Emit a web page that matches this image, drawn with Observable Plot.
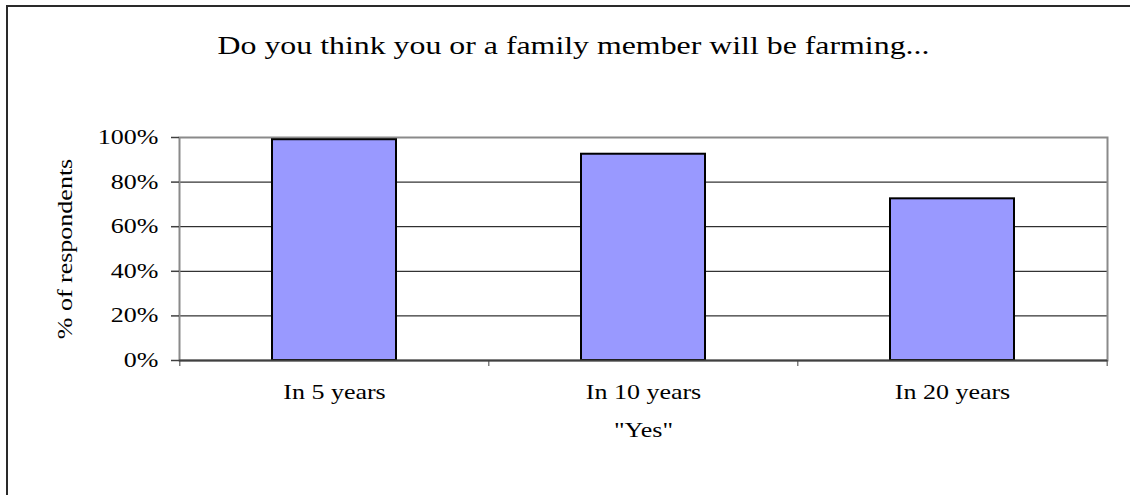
<!DOCTYPE html>
<html><head><meta charset="utf-8">
<script src="https://cdn.jsdelivr.net/npm/d3@7"></script>
<script src="https://cdn.jsdelivr.net/npm/@observablehq/plot@0.6"></script>
<style>
body{margin:0;background:#fff;}
#wrap{position:relative;width:1130px;height:495px;overflow:hidden;background:#fff;}
#wrap svg{position:absolute;left:0;top:0;}
#border{position:absolute;left:6px;top:5px;width:1200px;height:600px;border-left:2px solid #2a2a2a;border-top:2px solid #2a2a2a;}
</style></head><body><div id="wrap"><div id="border"></div></div>
<script>
const categories = ["In 5 years", "In 10 years", "In 20 years"];
const values = [0.99, 0.925, 0.725];
const yTicks = [0, 0.2, 0.4, 0.6, 0.8, 1];
const gridTicks = [0.2, 0.4, 0.6, 0.8];
const title = "Do you think you or a family member will be farming...";
const yLabel = "% of respondents";
const xLabel = '"Yes"';

const data = categories.map((c, i) => ({category: c, value: values[i]}));
const W = 1130, H = 495, mL = 179, mR = 23, mT = 137, mB = 135;
const step = (W - mL - mR) / categories.length;
const font = "'Liberation Serif', 'Times New Roman', serif";

const plot = Plot.plot({
  width: W, height: H, marginLeft: mL, marginRight: mR, marginTop: mT, marginBottom: mB,
  style: {fontFamily: font, fontSize: "20px", background: "transparent", color: "#000"},
  x: {type: "band", domain: categories, paddingInner: 0.6, paddingOuter: 0.3},
  y: {domain: [0, 1]},
  marks: [
    Plot.ruleY(gridTicks, {stroke: "#000", strokeWidth: 1}),
    Plot.frame({stroke: "#8a8a8a", strokeWidth: 2}),
    Plot.barY(data, {x: "category", y: "value", fill: "#9999ff", stroke: "#000", strokeWidth: 2}),
    Plot.ruleY([0], {stroke: "#404040", strokeWidth: 2}),
    Plot.axisY(yTicks, {tickSize: 8, tickPadding: 13, tickFormat: d3.format(".0%"), stroke: "#404040", strokeWidth: 1.5, line: true, label: null, fontSize: 20}),
    Plot.axisX({tickSize: 6, tickFormat: () => "", dx: -step / 2, label: null, stroke: "#404040"}),
    Plot.axisX([categories[categories.length - 1]], {tickSize: 6, tickFormat: () => "", dx: step / 2, label: null, stroke: "#404040"}),
    Plot.axisX({tickSize: 0, tickPadding: 24, label: null, fontSize: 20}),
    Plot.text([xLabel], {text: d => d, frameAnchor: "bottom", textAnchor: "middle", lineAnchor: "middle", dy: 70, fontSize: 20}),
    Plot.text([yLabel], {text: d => d, frameAnchor: "left", textAnchor: "middle", lineAnchor: "middle", rotate: -90, dx: -114, fontSize: 20}),
    Plot.text([title], {text: d => d, frameAnchor: "top", textAnchor: "middle", lineAnchor: "middle", dx: -70, dy: -91, fontSize: 24.5})
  ]
});
plot.querySelectorAll("text").forEach(t => {
  const tr = t.getAttribute("transform") || "";
  t.setAttribute("transform", (tr + " scale(1.3,1)").trim());
});
document.getElementById("wrap").appendChild(plot);
</script>
</body></html>
